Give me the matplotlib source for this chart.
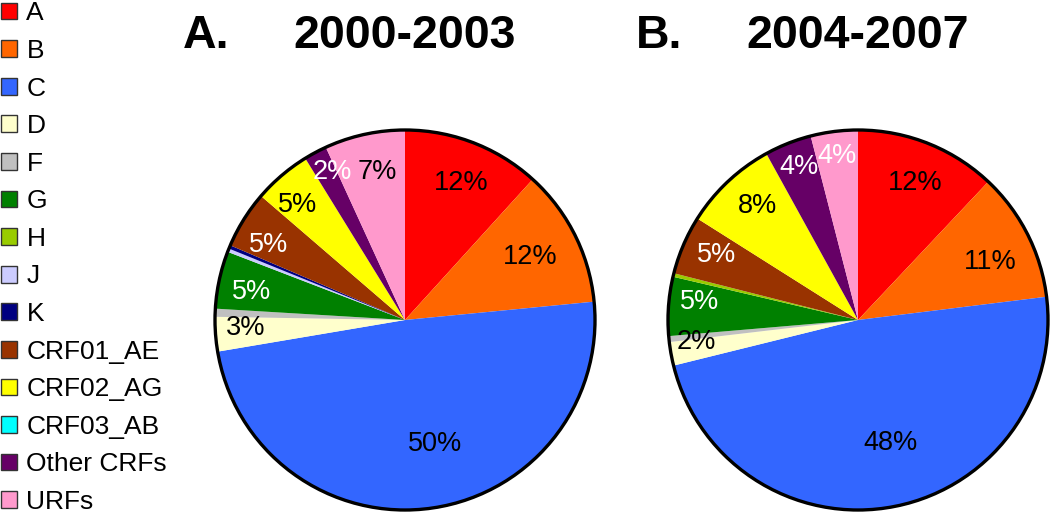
import numpy as np
import matplotlib
matplotlib.use("Agg")
import matplotlib.pyplot as plt
from matplotlib.patches import Patch, Circle

plt.rcParams["font.family"] = ["Liberation Sans", "DejaVu Sans"]

subtypes = ["A", "B", "C", "D", "F", "G", "H", "J", "K",
            "CRF01_AE", "CRF02_AG", "CRF03_AB", "Other CRFs", "URFs"]
colors = ["#FF0000", "#FF6600", "#3366FF", "#FFFFCC", "#C0C0C0", "#008000",
          "#99CC00", "#CCCCFF", "#000080", "#993300", "#FFFF00", "#00FFFF",
          "#660066", "#FF99CC"]

# percentages per period (small subtypes)
pct_2000 = [12, 12, 50, 3, 0.7, 5, 0.0, 0.3, 0.3, 5, 5, 0.0, 2, 7]
pct_2004 = [12, 11, 48, 2, 0.5, 5, 0.3, 0.0, 0.0, 5, 8, 0.0, 4, 4]

labels_2000 = ["12%", "12%", "50%", "3%", "", "5%", "", "", "", "5%", "5%", "", "2%", "7%"]
labels_2004 = ["12%", "11%", "48%", "2%", "", "5%", "", "", "", "5%", "8%", "", "4%", "4%"]

# label colour, radial distance (fraction of radius) and angle nudge (deg)
lab_col_2000 = ["black", "black", "black", "black", "", "white", "", "", "", "white", "black", "", "white", "black"]
lab_col_2004 = ["black", "black", "black", "black", "", "white", "", "", "", "white", "black", "", "white", "white"]
lab_r_2000 = [0.78, 0.74, 0.67, 0.84, 0, 0.82, 0, 0, 0, 0.82, 0.83, 0, 0.87, 0.79]
lab_r_2004 = [0.78, 0.76, 0.67, 0.86, 0, 0.84, 0, 0, 0, 0.82, 0.80, 0, 0.86, 0.87]
lab_da_2000 = [-1, 0, 6, -1.4, 0, 1.8, 0, 0, 0, 3, 2.5, 0, -2, -1.8]
lab_da_2004 = [-1, -3, 4.5, -2.6, 0, -2.3, 0, 0, 0, -1.3, -1.8, 0, -0.6, 0]

W, H = 1050, 512
fig = plt.figure(figsize=(W / 100, H / 100), dpi=100)


def draw_pie(cx, cy, r, vals, labels, lcols, lrads, ldas, title_letter, title_years):
    ax = fig.add_axes([(cx - r) / W, (H - cy - r) / H, 2 * r / W, 2 * r / H])
    wedges, _ = ax.pie(vals, colors=colors, startangle=90, counterclock=False,
                       radius=1.0, wedgeprops=dict(linewidth=0))
    ax.set_xlim(-1.0, 1.0)
    ax.set_ylim(-1.0, 1.0)
    ax.set_aspect("equal")
    ax.axis("off")
    ax.add_patch(Circle((0, 0), 1.0, fill=False, edgecolor="black", linewidth=2.4, clip_on=False))
    for w, lab, c, rr, da in zip(wedges, labels, lcols, lrads, ldas):
        if not lab:
            continue
        th = np.deg2rad((w.theta1 + w.theta2) / 2 + da)
        ax.text(rr * np.cos(th), rr * np.sin(th), lab, ha="center", va="center",
                fontsize=19.5, color=c)
    fig.text((cx - 222) / W, 1 - 36 / H, title_letter, ha="left", va="center",
             fontsize=33.5, fontweight="bold")
    fig.text(cx / W, 1 - 36 / H, title_years, ha="center", va="center",
             fontsize=33.5, fontweight="bold")


draw_pie(405, 320, 190, pct_2000, labels_2000, lab_col_2000, lab_r_2000, lab_da_2000,
         "A.", "2000-2003")
draw_pie(858, 320, 190, pct_2004, labels_2004, lab_col_2004, lab_r_2004, lab_da_2004,
         "B.", "2004-2007")

handles = [Patch(facecolor=c, edgecolor="#333333", linewidth=1.0) for c in colors]
fig.legend(handles, subtypes, loc="upper left", bbox_to_anchor=(0.0, 1.0),
           frameon=False, fontsize=19, handlelength=0.6, handleheight=0.6,
           handletextpad=0.35, labelspacing=0.515, borderpad=0, borderaxespad=0.05)

fig.savefig("out.png", dpi=100, facecolor="white")
